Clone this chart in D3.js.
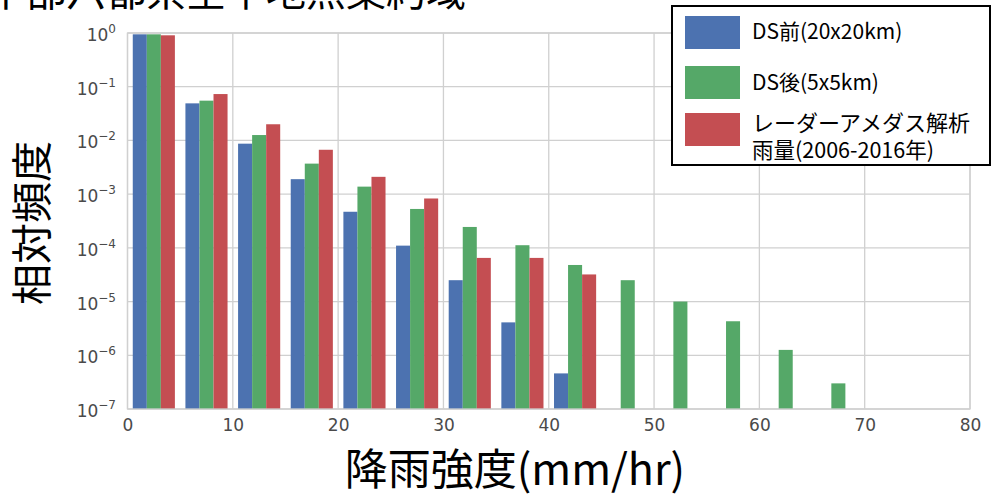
<!DOCTYPE html>
<html>
<head>
<meta charset="utf-8">
<script src="https://cdn.jsdelivr.net/npm/d3@7"></script>
<style>
  body { margin: 0; background: #fff; }
  svg { display: block; }
  .tick text { font-family: "DejaVu Sans", sans-serif; fill: #4a4a4a; }
  .jp { font-family: "Noto Sans CJK JP", sans-serif; fill: #000; }
</style>
</head>
<body>
<div id="chart"></div>
<script>
// bins of 5 mm/hr, relative frequency per series
var binStarts = [0, 5, 10, 15, 20, 25, 30, 35, 40, 45, 50, 55, 60, 65];
var dsBefore  = [0.945, 0.049, 0.0087, 0.0019, 0.00047, 0.00011, 2.5e-5, 4.1e-6, 4.6e-7];
var dsAfter   = [0.945, 0.055, 0.0126, 0.0037, 0.00138, 0.00053, 2.45e-4, 1.12e-4, 4.8e-5, 2.5e-5, 1.0e-5, 4.3e-6, 1.26e-6, 3.0e-7];
var radar     = [0.906, 0.073, 0.020, 0.0067, 0.0021, 0.00083, 6.5e-5, 6.5e-5, 3.2e-5];

var seriesNames = ["DS前(20x20km)", "DS後(5x5km)", "レーダーアメダス解析\n雨量(2006-2016年)"];
var seriesColors = ["#4c72b0", "#55a868", "#c44e52"];
var xTicks = [0, 10, 20, 30, 40, 50, 60, 70, 80];
var yExps = [0, -1, -2, -3, -4, -5, -6, -7];

var W = 991, H = 497;
var svg = d3.select("#chart").append("svg")
  .attr("width", W).attr("height", H);

var x = d3.scaleLinear().domain([0, 80]).range([127.5, 970]);
var y = d3.scaleLog().domain([1e-7, 1]).range([409, 33]);

// title, cut off by the top edge as in the original slide
svg.append("text").attr("class", "jp")
  .attr("x", -14).attr("y", 6)
  .style("font-size", "40px")
  .text("中部六都県全平地点集約域");

// grid
var grid = svg.append("g");
grid.selectAll(".gx").data(xTicks).enter().append("line")
  .attr("x1", d => x(d)).attr("x2", d => x(d))
  .attr("y1", y(1)).attr("y2", y(1e-7))
  .attr("stroke", "#d0d0d0").attr("stroke-width", 1.3);
grid.selectAll(".gy").data(yExps).enter().append("line")
  .attr("x1", x(0)).attr("x2", x(80))
  .attr("y1", d => y(Math.pow(10, d))).attr("y2", d => y(Math.pow(10, d)))
  .attr("stroke", "#d0d0d0").attr("stroke-width", 1.3);

// bars
var all = [dsBefore, dsAfter, radar];
var bw = 4 / 3;
all.forEach(function(vals, k){
  svg.append("g").selectAll("rect").data(vals).enter().append("rect")
    .attr("x", (d, i) => x(binStarts[i] + 0.5 + k * bw))
    .attr("width", x(bw) - x(0))
    .attr("y", d => y(d))
    .attr("height", d => y(1e-7) - y(d))
    .attr("fill", seriesColors[k]);
});

// x axis labels (no tick marks)
var xAxis = svg.append("g").attr("transform", "translate(0," + y(1e-7) + ")")
  .call(d3.axisBottom(x).tickValues(xTicks).tickSize(0).tickPadding(10));
xAxis.select(".domain").remove();
xAxis.selectAll("text").style("font-size", "17px");

// y axis labels 10^n
var yl = svg.append("g").attr("class", "tick");
yExps.forEach(function(e){
  var t = yl.append("text")
    .attr("x", 116).attr("y", y(Math.pow(10, e)) + 8)
    .attr("text-anchor", "end")
    .style("font-size", "17px");
  t.append("tspan").text("10");
  t.append("tspan").attr("dy", -8).style("font-size", "12px")
    .text(e === 0 ? "0" : "\u2212" + (-e));
});

// frame
svg.append("rect")
  .attr("x", x(0)).attr("y", y(1))
  .attr("width", x(80) - x(0)).attr("height", y(1e-7) - y(1))
  .attr("fill", "none").attr("stroke", "#d0d0d0").attr("stroke-width", 1.3);

// axis titles
svg.append("text").attr("class", "jp")
  .attr("x", 515).attr("y", 485)
  .attr("text-anchor", "middle")
  .style("font-size", "43px")
  .text("降雨強度(mm/hr)");

svg.append("text").attr("class", "jp")
  .attr("transform", "translate(47,223) rotate(-90)")
  .attr("text-anchor", "middle")
  .style("font-size", "41px")
  .text("相対頻度");

// legend
var lg = svg.append("g");
lg.append("rect").attr("x", 672).attr("y", 6).attr("width", 318).attr("height", 159)
  .attr("fill", "#fff").attr("stroke", "#000").attr("stroke-width", 2);
var patchY = [16, 66, 113];
var textY = [[39], [90], [131, 158]];
var textSize = [[21], [21], [22], [21.5]];
textSize = [[21], [21], [22, 21.5]];
seriesNames.forEach(function(name, k){
  lg.append("rect").attr("x", 685).attr("y", patchY[k])
    .attr("width", 55).attr("height", 33).attr("fill", seriesColors[k]);
  name.split("\n").forEach(function(line, j){
    lg.append("text").attr("class", "jp")
      .attr("x", 752).attr("y", textY[k][j])
      .style("font-size", textSize[k][j] + "px")
      .text(line);
  });
});
</script>
</body>
</html>
